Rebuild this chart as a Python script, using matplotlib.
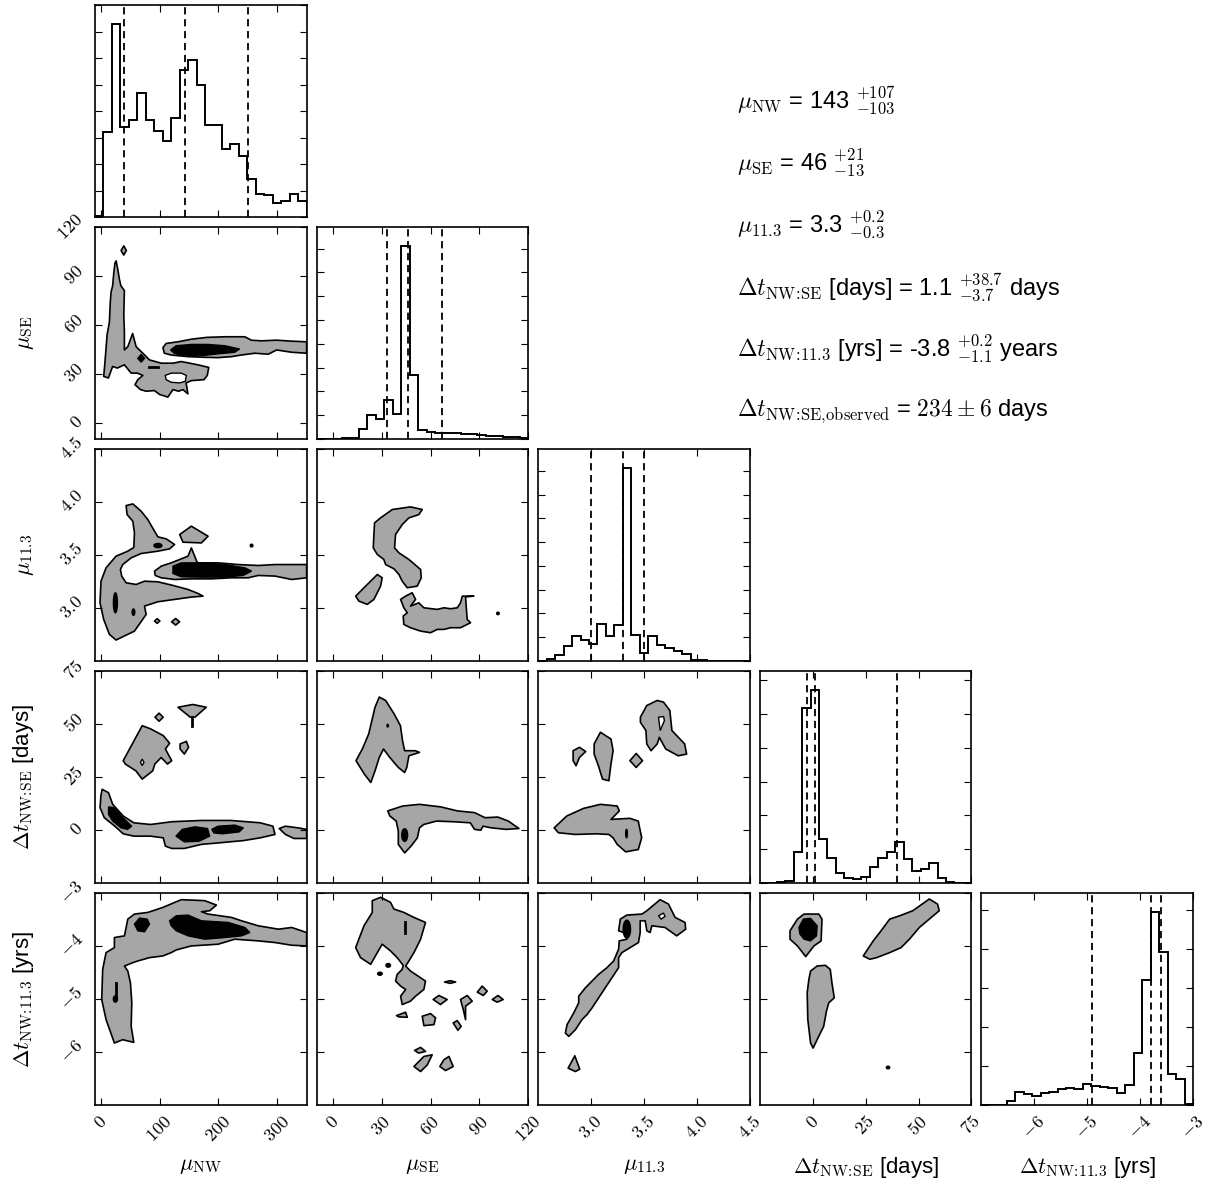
import numpy as np
import matplotlib
matplotlib.use("Agg")
import matplotlib.pyplot as plt
from matplotlib.patches import Ellipse
from matplotlib.ticker import MultipleLocator

plt.rcParams['mathtext.fontset'] = 'cm'
plt.rcParams['font.family'] = ['Liberation Sans', 'DejaVu Sans']

# ---------------- parameters / axes ----------------
labels = [r'$\mu_{\rm NW}$', r'$\mu_{\rm SE}$', r'$\mu_{11.3}$',
          r'$\Delta t_{\rm NW\!:\!SE}$ [days]', r'$\Delta t_{\rm NW\!:\!11.3}$ [yrs]']
ranges = [(-10, 350), (-10, 120), (2.5, 4.5), (-25, 75), (-7, -3)]
tick_vals = [[0, 100, 200, 300], [0, 30, 60, 90, 120], [3.0, 3.5, 4.0, 4.5],
             [0, 25, 50, 75], [-6, -5, -4, -3]]
tick_txt = [['0', '100', '200', '300'], ['0', '30', '60', '90', '120'],
            ['3.0', '3.5', '4.0', '4.5'], ['0', '25', '50', '75'],
            ['-6', '-5', '-4', '-3']]

# ---------------- 1D histograms (25 bins each) ----------------
hist_nw = [1, 161, 364, 170, 184, 235, 184, 163, 143, 187, 277, 296, 250, 173, 173,
           128, 138, 115, 72, 44, 41, 27, 30, 43, 30]
hist_se = [0, 0, 1, 3, 6, 42, 101, 84, 162, 104, 810, 268, 38, 28, 25, 24, 24, 23,
           20, 17, 14, 13, 10, 8, 6]
hist_113 = [1, 8, 24, 65, 107, 90, 72, 156, 104, 152, 811, 111, 34, 104, 66, 55, 41,
            31, 6, 3, 1, 0, 0, 0, 0]
hist_dtse = [0, 2, 4, 12, 182, 1038, 1141, 261, 150, 57, 28, 22, 38, 97, 150, 186,
             240, 141, 73, 83, 121, 28, 4, 0, 0]
hist_dt113 = [0, 0, 0, 21, 67, 55, 46, 60, 67, 80, 89, 80, 106, 97, 92, 85, 63, 103,
              265, 641, 986, 781, 157, 135, 3]
hists = [hist_nw, hist_se, hist_113, hist_dtse, hist_dt113]
hist_tick_step = [50, 100, 100, 200, 200]

q_nw = [40, 143, 250]
q_se = [33, 46, 67]
q_113 = [3.0, 3.3, 3.5]
q_dtse = [-2.6, 1.1, 39.8]
q_dt113 = [-4.9, -3.8, -3.6]
quantiles = [q_nw, q_se, q_113, q_dtse, q_dt113]

# ---------------- 2D credible regions (data coordinates) ----------------
# panel (mu_SE vs mu_NW)
p10_gray = [
    [(4.8, 28.4), (7, 37.5), (8.8, 45.6), (10.5, 53.7), (14.5, 61.8), (16, 73.9), (17.3, 80),
     (20, 84), (22, 92), (24, 98), (26, 99.2), (28.7, 94.1), (31.5, 88), (34, 84), (40, 81),
     (39.5, 73.9), (39, 65.8), (40, 55.7), (40, 44.6), (45.8, 46.6), (54, 54.7), (60, 46.6),
     (62.8, 45.6), (71.4, 42.6), (82.7, 38.5), (102.6, 36.5), (122.6, 36.5), (136.8, 37.5),
     (151, 36.5), (165, 35.5), (183.5, 33.9), (181, 29), (175.5, 26.4), (154, 25.8),
     (145, 24.4), (148, 17.7), (139.6, 20.3), (132, 19.3), (122.6, 20.3), (114, 15.7),
     (100, 17.3), (91, 19.7), (77, 19.3), (67.4, 20.3), (58, 23.3), (62.8, 26.4),
     (71.4, 29), (62, 30.4), (51.5, 30.4), (40, 35.5), (28, 33.5), (20, 34.5), (12.8, 27.4)],
    [(105.5, 46), (111, 48.6), (131, 49.6), (154, 51.2), (179.4, 52.3), (210.6, 52.7),
     (244.8, 52.7), (256, 50.6), (273, 50.2), (299, 50.6), (324.4, 50), (350, 49.6),
     (350, 42.6), (324.4, 43.2), (299, 44.6), (284.6, 42), (261.8, 42.6), (239, 41.5),
     (222, 40.5), (199, 39.9), (176.5, 40.1), (148, 40.5), (119.7, 41.5), (108, 42.6)],
    [(34.4, 105.6), (38.9, 108.4), (43.4, 105.6), (38.9, 102.8)],
]
p10_white = [
    [(109.5, 29), (119.7, 30.4), (136.8, 30.4), (145.3, 29), (143.6, 25.4), (134, 24.4),
     (119.7, 24.8), (111, 26.4)],
]
p10_black = [
    [(118.5, 44.6), (128, 47.2), (154, 48), (182, 48), (210.6, 47.2), (236, 45.2),
     (227.7, 43.2), (199, 42.2), (171, 41.1), (142.4, 41.1), (125.4, 42.4)],
    [(62.8, 39.5), (68.5, 41.9), (74.2, 39.5), (68.5, 37.1)],
]
p10_lines = [[(81.6, 34), (97, 34)]]
p10_dots = []

# panel (mu_11.3 vs mu_NW)
p20_gray = [
    [(42.9, 3.966), (54.3, 3.982), (68.5, 3.913), (79.9, 3.834), (91.3, 3.724), (97, 3.671),
     (111.2, 3.652), (125.4, 3.599), (116.9, 3.558), (97, 3.536), (68.5, 3.514),
     (51.5, 3.473), (37.2, 3.410), (33.2, 3.363), (35.5, 3.301), (42.9, 3.238), (60, 3.222),
     (74.2, 3.253), (97, 3.247), (122.6, 3.213), (148.2, 3.175), (165.3, 3.137),
     (173.8, 3.112), (153.9, 3.103), (125.4, 3.081), (97, 3.059), (74.2, 3.018),
     (77, 2.939), (57.1, 2.782), (25.8, 2.698), (14.5, 2.751), (4.8, 2.892), (-1.5, 3.049),
     (0.2, 3.253), (8.8, 3.379), (25.8, 3.489), (45.8, 3.536), (56, 3.571), (57.1, 3.709),
     (54.3, 3.819), (44.6, 3.881)],
    [(91.3, 3.348), (102.7, 3.395), (119.7, 3.426), (148.2, 3.489), (153.9, 3.567),
     (164.1, 3.426), (199.4, 3.426), (233.5, 3.410), (267.7, 3.401), (296.1, 3.410),
     (324.6, 3.410), (350, 3.410), (350, 3.285), (324.6, 3.269), (296.1, 3.301),
     (267.7, 3.307), (250.6, 3.285), (222.2, 3.285), (188, 3.275), (153.9, 3.275),
     (125.4, 3.269), (102.7, 3.285), (92.4, 3.307)],
    [(134, 3.693), (153.9, 3.772), (182.3, 3.677), (171, 3.614), (139.6, 3.621)],
    [(91.2, 2.877), (95.8, 2.899), (100.4, 2.877), (95.8, 2.855)],
    [(120.3, 2.870), (127.1, 2.901), (133.9, 2.870), (127.1, 2.839)],
]
p20_white = []
p20_black = [
    [(122.6, 3.395), (136.8, 3.426), (171, 3.426), (210.8, 3.410), (244.9, 3.379),
     (256.3, 3.348), (242, 3.307), (210.8, 3.291), (171, 3.291), (136.8, 3.294),
     (122.6, 3.326)],
]
p20_lines = []
p20_dots = [(97, 3.589, 6.8, 0.02), (24.7, 3.049, 3.4, 0.094), (55.4, 2.961, 2.3, 0.03),
            (256.3, 3.589, 2.3, 0.013)]

# panel (mu_11.3 vs mu_SE)
p21_gray = [
    [(36.5, 3.929), (47.7, 3.954), (54.9, 3.929), (52.8, 3.881), (46.7, 3.850),
     (42.6, 3.787), (38.5, 3.693), (37.9, 3.567), (40.6, 3.520), (46.7, 3.458),
     (53.9, 3.363), (54.3, 3.285), (51.8, 3.206), (45.7, 3.191), (42.6, 3.253),
     (40.6, 3.316), (37.5, 3.370), (32.4, 3.410), (31.3, 3.458), (27.3, 3.505),
     (24.8, 3.567), (25.2, 3.693), (25.6, 3.803), (29.3, 3.850)],
    [(14, 3.112), (20.1, 3.206), (27.3, 3.316), (30.3, 3.285), (29.3, 3.206), (25.2, 3.081),
     (21.1, 3.034), (16, 3.065)],
    [(41.6, 3.081), (44.7, 3.112), (48.7, 3.144), (50.8, 3.081), (47.7, 3.018),
     (52.8, 3.049), (55.9, 3.002), (64.1, 2.987), (68.2, 3.002), (72.3, 2.993),
     (76.4, 3.002), (78.4, 3.049), (79.5, 3.112), (86.6, 3.112), (81.5, 3.105),
     (82.5, 2.892), (84.6, 2.861), (78.4, 2.814), (72.3, 2.814), (68.2, 2.798),
     (64.1, 2.798), (60, 2.767), (53.9, 2.782), (47.7, 2.814), (43.6, 2.845),
     (43.2, 2.924), (45.7, 2.955), (43.6, 3.002)],
]
p21_white = []
p21_black = []
p21_lines = []
p21_dots = [(101.4, 2.949, 0.8, 0.012)]

# panel (dt_NW:SE vs mu_NW)
p30_gray = [
    [(2.2, 19.2), (13, 17.6), (20.1, 12.1), (38, 6.6), (56, 3.4), (84.6, 2.6), (120.5, 3.9),
     (170.7, 4.5), (220.9, 4.5), (271, 3.4), (292.6, 1.8), (296.2, -2.1), (271, -3.7),
     (242.4, -5), (199.4, -6.1), (170.7, -6.8), (142, -8.7), (120.5, -8.7), (109.7, -7.6),
     (106.2, -3.7), (84.6, -2.9), (56, -2.9), (38, -1.8), (23.7, 1.8), (5.8, 5.8),
     (-1.4, 10.5), (0, 16.1)],
    [(303.3, 0.7), (314, 1.8), (335.6, 1), (350, 0.3), (350, -4), (328.4, -4), (314, -2.1)],
    [(38, 32.7), (70.3, 49.2), (84.6, 47.7), (106.2, 44.5), (117, 40.9), (109.7, 38.2),
     (120.5, 32.7), (113.3, 31.1), (102.6, 34.2), (91.8, 31.1), (88.2, 27.9), (70.3, 24),
     (59.5, 27.9), (41.6, 31.1)],
    [(92, 53.2), (99, 55.1), (106, 53.2), (99, 51.3)],
    [(134.8, 40.6), (145.5, 41.8), (149.2, 39), (142, 35.8), (134.8, 38.2)],
    [(131.2, 57.9), (156.3, 59.2), (179.3, 57.9), (160, 53.2), (152, 53.2)],
]
p30_white = [[(67.3, 31.9), (70.3, 33.4), (73.3, 31.9), (70.3, 30.4)]]
p30_black = [
    [(13, 10.9), (23.7, 10.5), (34.5, 6.6), (52.4, 1.8), (45.2, 0.3), (34.5, 1),
     (20.1, 4.2), (13, 7.4)],
    [(127.7, -2.9), (138.4, 0.3), (160, 1.5), (181.4, 0.7), (185, -2.9), (167, -5.3),
     (142, -5.6)],
    [(188.6, 0.3), (199.4, 1.8), (228, 2.3), (242.4, 1), (235.2, -0.9), (206.5, -1.8),
     (192.2, -1.4)],
]
p30_lines = [[(155, 53.2), (155, 49.2)]]
p30_dots = []

# panel (dt_NW:SE vs mu_SE)
p31_gray = [
    [(14.2, 32.7), (18.1, 38.2), (22, 45.3), (25.9, 57.9), (28.5, 62.7), (32.4, 61.1),
     (37.6, 54.8), (41.5, 49.2), (42.8, 42.1), (44.1, 37.4), (50.6, 37.4), (53.2, 36.6),
     (46.7, 35), (45.4, 29.5), (44.1, 27.1), (40.2, 29.5), (35, 34.2), (31.1, 38.2),
     (28.5, 34.2), (25.9, 27.9), (23.3, 22.4), (19.4, 26.3)],
    [(33.7, 9), (42.8, 11.3), (53.2, 12.1), (66.2, 10.9), (76.6, 9), (87, 8.2), (93.5, 5.8),
     (101.3, 6.1), (107.8, 4.2), (114.3, 0.7), (106.5, 0.3), (97.4, 1), (92.2, 1.8),
     (90.9, -0.1), (87, 0.3), (84.4, 3.4), (74, 3.9), (63.6, 4.2), (55.8, 2.6), (53.2, 1),
     (51.9, -3.7), (48, -7.6), (44.1, -10.8), (40.2, -6.8), (40.2, -0.5), (38.9, 4.2),
     (35, 6.6)],
]
p31_white = []
p31_black = []
p31_lines = []
p31_dots = [(33.7, 49.2, 0.5, 0.6), (44.1, -2.4, 1.8, 3.0)]

# panel (dt_NW:SE vs mu_11.3)
p32_gray = [
    [(2.651, 1), (2.770, 6.6), (2.929, 10.2), (3.088, 12.1), (3.247, 11.3), (3.267, 9),
     (3.188, 5), (3.367, 5.5), (3.446, 4.2), (3.478, -3.7), (3.446, -9.2), (3.327, -10.3),
     (3.247, -6.8), (3.208, -3.7), (3.168, -2.1), (3.049, -1.8), (2.850, -2.1),
     (2.691, -1.3)],
    [(2.830, 37.4), (2.890, 39), (2.949, 37), (2.890, 34.2), (2.858, 30.3), (2.830, 32.7)],
    [(3.029, 40.6), (3.088, 46.1), (3.188, 42.9), (3.208, 37.4), (3.188, 31.1),
     (3.168, 23.2), (3.108, 24), (3.069, 30.3), (3.029, 35.8)],
    [(3.367, 32.7), (3.426, 36.1), (3.486, 32.7), (3.426, 29.5)],
    [(3.466, 53.2), (3.526, 58.7), (3.625, 61.1), (3.685, 60.3), (3.744, 56.4),
     (3.764, 46.9), (3.884, 40.6), (3.903, 35.8), (3.824, 35), (3.705, 38.2),
     (3.645, 43.7), (3.625, 40.6), (3.566, 37.4), (3.526, 40.6), (3.518, 46.9),
     (3.466, 50.8)],
]
p32_white = [[(3.637, 53.2), (3.685, 53.5), (3.693, 51.6), (3.653, 46.9)]]
p32_black = []
p32_lines = []
p32_dots = [(3.335, -1.7, 0.008, 2.0)]

# panel (dt_NW:11.3 vs mu_NW)
p40_gray = [
    [(23, -3.841), (40.1, -3.809), (45.8, -3.493), (57.1, -3.398), (79.9, -3.367),
     (105.5, -3.272), (136.8, -3.126), (176.6, -3.145), (196.5, -3.228), (185.2, -3.335),
     (171, -3.354), (182.3, -3.398), (222.2, -3.461), (239.2, -3.525), (267.7, -3.619),
     (301.8, -3.683), (324.6, -3.651), (350, -3.746), (350, -3.999), (324.6, -3.986),
     (296.1, -3.935), (267.7, -3.904), (227.8, -3.872), (199.4, -3.967), (153.9, -3.999),
     (128.3, -4.074), (119.7, -4.125), (105.5, -4.188), (82.7, -4.220), (62.8, -4.283),
     (54.3, -4.315), (40.1, -4.378), (45.8, -4.473), (50.3, -4.694), (52.6, -5.073),
     (51.5, -5.515), (56, -5.819), (37.2, -5.768), (23, -5.831), (8.8, -5.389),
     (1.4, -5.010), (3.1, -4.441), (8.8, -4.125), (23, -4.030)],
]
p40_white = []
p40_black = [
    [(57.1, -3.588), (65.7, -3.474), (78.8, -3.493), (82.7, -3.588), (74.2, -3.733),
     (62.8, -3.714)],
    [(116.9, -3.525), (128.3, -3.430), (148.2, -3.417), (171, -3.525), (216.5, -3.556),
     (244.9, -3.651), (253.4, -3.746), (239.2, -3.809), (210.8, -3.841), (176.6, -3.872),
     (148.2, -3.809), (128.3, -3.714), (119.7, -3.619)],
]
p40_lines = [[(25.8, -4.694), (25.8, -5.0)]]
p40_dots = [(24.7, -5.0, 3.5, 0.06)]

# panel (dt_NW:11.3 vs mu_SE)
p41_gray = [
    [(14, -4.030), (19.1, -3.619), (24.2, -3.367), (24.2, -3.145), (29.3, -3.082),
     (35.4, -3.177), (37.5, -3.303), (43.6, -3.367), (49.8, -3.461), (56.9, -3.556),
     (53.9, -3.872), (49.8, -4.125), (46.7, -4.283), (44.7, -4.378), (47.7, -4.473),
     (56.9, -4.662), (55.9, -4.820), (50.8, -4.947), (47.7, -5.041), (42.6, -5.105),
     (41.6, -4.947), (44.7, -4.820), (41.6, -4.757), (38.5, -4.662), (39.5, -4.536),
     (42.6, -4.441), (43.2, -4.365), (39.5, -4.220), (35.4, -4.093), (30.3, -3.967),
     (27.3, -4.125), (23.2, -4.346), (17, -4.220)],
    [(61.6, -5.010), (65.1, -4.934), (70.2, -5.010), (66.1, -5.105)],
    [(88.7, -4.871), (91.7, -4.757), (94.8, -4.852), (92.4, -4.934)],
    [(97.9, -5.010), (101.4, -4.934), (104.6, -5.010), (100.9, -5.060)],
    [(78.4, -5.010), (82.5, -4.934), (85.6, -5.041), (81.5, -5.136), (81.5, -5.389),
     (80.1, -5.199)],
    [(39.1, -5.313), (44.7, -5.250), (45.7, -5.345), (40.6, -5.338)],
    [(54.9, -5.326), (60, -5.275), (63.1, -5.357), (62.1, -5.484), (55.9, -5.503)],
    [(73.9, -5.452), (76.4, -5.408), (78.8, -5.515), (76.8, -5.591)],
    [(50.2, -5.970), (53.9, -5.913), (56.9, -5.989), (52.8, -6.021)],
    [(49.8, -6.274), (55.9, -6.084), (61, -6.053), (58, -6.243), (53.9, -6.369)],
    [(65.7, -6.274), (68.2, -6.147), (71.3, -6.084), (73.9, -6.274), (69.2, -6.350)],
    [(68.6, -4.680), (72, -4.655), (75.4, -4.680), (72, -4.705)],
]
p41_white = []
p41_black = []
p41_lines = [[(44.0, -3.556), (44.0, -3.746)]]
p41_dots = [(34, -4.365, 1.4, 0.035), (28.9, -4.523, 1.4, 0.03)]

# panel (dt_NW:11.3 vs mu_11.3)
p42_gray = [
    [(2.757, -5.642), (2.773, -5.484), (2.836, -5.263), (2.883, -5.073), (2.883, -4.947),
     (2.946, -4.789), (3.071, -4.536), (3.150, -4.409), (3.213, -4.283), (3.260, -4.062),
     (3.266, -3.904), (3.338, -3.872), (3.354, -3.777), (3.260, -3.714), (3.276, -3.493),
     (3.338, -3.417), (3.480, -3.398), (3.527, -3.335), (3.652, -3.126), (3.731, -3.209),
     (3.794, -3.461), (3.888, -3.556), (3.894, -3.683), (3.809, -3.809), (3.699, -3.651),
     (3.574, -3.619), (3.558, -3.746), (3.527, -3.714), (3.511, -3.525), (3.464, -3.525),
     (3.464, -3.746), (3.448, -3.935), (3.370, -4.030), (3.291, -4.125), (3.260, -4.220),
     (3.260, -4.409), (3.197, -4.599), (3.103, -4.883), (3.009, -5.168), (2.962, -5.294),
     (2.914, -5.389), (2.852, -5.579), (2.789, -5.705)],
    [(2.783, -6.305), (2.846, -6.072), (2.893, -6.324), (2.852, -6.369)],
]
p42_white = [[(3.637, -3.430), (3.684, -3.379), (3.699, -3.442), (3.662, -3.493)]]
p42_black = []
p42_lines = []
p42_dots = [(3.338, -3.683, 0.035, 0.17)]

# panel (dt_NW:11.3 vs dt_NW:SE)
p43_gray = [
    [(-10.7, -3.714), (-7.2, -3.493), (-4.1, -3.398), (2.9, -3.398), (4.4, -3.493),
     (4, -3.904), (0.6, -3.999), (-3.3, -4.201), (-7.2, -3.999), (-10.7, -3.872)],
    [(-1, -4.473), (2.1, -4.378), (6, -4.365), (8.3, -4.441), (9.1, -4.694), (10.2, -4.978),
     (7.6, -5.073), (6.5, -5.231), (5.2, -5.515), (2.1, -5.768), (0.2, -5.926),
     (-1, -5.831), (-2.3, -5.389), (-2.6, -4.883), (-1.8, -4.631)],
    [(23.9, -4.188), (28.6, -3.904), (31.7, -3.746), (36.4, -3.493), (41.1, -3.430),
     (47.3, -3.335), (55.1, -3.114), (59, -3.209), (59.8, -3.335), (55.1, -3.493),
     (50.4, -3.651), (45.7, -3.872), (41.8, -4.030), (36.4, -4.125), (30.2, -4.220),
     (27, -4.251)],
]
p43_white = []
p43_black = [
    [(-6.5, -3.651), (-4.4, -3.493), (-1, -3.480), (2.1, -3.619), (1.8, -3.809),
     (-1, -3.904), (-4.1, -3.872), (-6, -3.777)],
]
p43_lines = []
p43_dots = [(35.6, -6.293, 0.8, 0.025)]

panels = {
    (1, 0): (p10_gray, p10_white, p10_black, p10_lines, p10_dots),
    (2, 0): (p20_gray, p20_white, p20_black, p20_lines, p20_dots),
    (2, 1): (p21_gray, p21_white, p21_black, p21_lines, p21_dots),
    (3, 0): (p30_gray, p30_white, p30_black, p30_lines, p30_dots),
    (3, 1): (p31_gray, p31_white, p31_black, p31_lines, p31_dots),
    (3, 2): (p32_gray, p32_white, p32_black, p32_lines, p32_dots),
    (4, 0): (p40_gray, p40_white, p40_black, p40_lines, p40_dots),
    (4, 1): (p41_gray, p41_white, p41_black, p41_lines, p41_dots),
    (4, 2): (p42_gray, p42_white, p42_black, p42_lines, p42_dots),
    (4, 3): (p43_gray, p43_white, p43_black, p43_lines, p43_dots),
}

summary = [
    r'$\mu_{\rm NW}$ = 143 ${}^{+107}_{-103}$',
    r'$\mu_{\rm SE}$ = 46 ${}^{+21}_{-13}$',
    r'$\mu_{11.3}$ = 3.3 ${}^{+0.2}_{-0.3}$',
    r'$\Delta t_{\rm NW\!:\!SE}$ [days] = 1.1 ${}^{+38.7}_{-3.7}$ days',
    r'$\Delta t_{\rm NW\!:\!11.3}$ [yrs] = -3.8 ${}^{+0.2}_{-1.1}$ years',
    r'$\Delta t_{\rm NW\!:\!SE,\!observed}$ = $234 \pm 6$ days',
]

# ---------------- drawing ----------------
GRAY = '#a6a6a6'
n = 5
fig, axes = plt.subplots(n, n, figsize=(12.09, 11.95), dpi=100)
fig.subplots_adjust(left=95 / 1209, right=1193 / 1209, top=1 - 5 / 1195,
                    bottom=1 - 1105 / 1195, wspace=0.047, hspace=0.047)

TICK_FS = 13
LABEL_FS = 16


def math_labels(txts):
    return ['$' + t + '$' for t in txts]


for i in range(n):
    for j in range(n):
        ax = axes[i, j]
        if j > i:
            ax.set_axis_off()
            continue
        ax.set_xlim(*ranges[j])
        ax.set_xticks(tick_vals[j])
        ax.tick_params(direction='in', length=5, width=0.8, top=True, right=True, pad=6)
        for s in ax.spines.values():
            s.set_linewidth(1.2)
        if i == j:
            counts = np.array(hists[i], dtype=float)
            edges = np.linspace(ranges[i][0], ranges[i][1], len(counts) + 1)
            ax.stairs(counts, edges, color='k', lw=1.4, baseline=0)
            for q in quantiles[i]:
                ax.axvline(q, color='k', ls=(0, (4, 2.6)), lw=1.3)
            ax.set_ylim(0, 1.1 * counts.max())
            ax.yaxis.set_major_locator(MultipleLocator(hist_tick_step[i]))
            ax.set_yticklabels([])
        else:
            ax.set_ylim(*ranges[i])
            ax.set_yticks(tick_vals[i])
            gray, white, black, lines, dots = panels[(i, j)]
            for poly in gray:
                xs, ys = zip(*poly)
                ax.fill(xs, ys, facecolor=GRAY, edgecolor='k', lw=1.2, joinstyle='round')
            for poly in white:
                xs, ys = zip(*poly)
                ax.fill(xs, ys, facecolor='white', edgecolor='k', lw=1.0)
            for poly in black:
                xs, ys = zip(*poly)
                ax.fill(xs, ys, facecolor='k', edgecolor='k', lw=1.0)
            for ln in lines:
                xs, ys = zip(*ln)
                ax.plot(xs, ys, color='k', lw=2)
            for (cx, cy, hx, hy) in dots:
                ax.add_patch(Ellipse((cx, cy), 2 * hx, 2 * hy, facecolor='k',
                                     edgecolor='k', lw=1))
            if j == 0:
                ax.set_yticklabels(math_labels(tick_txt[i]), rotation=45,
                                   fontsize=TICK_FS, ha='right', va='center')
                ax.set_ylabel(labels[i], fontsize=LABEL_FS)
                ax.yaxis.set_label_coords(-0.28, 0.5)
            else:
                ax.set_yticklabels([])
        if i == n - 1:
            ax.set_xticklabels(math_labels(tick_txt[j]), rotation=45, fontsize=TICK_FS,
                               ha='center', va='top')
            ax.set_xlabel(labels[j], fontsize=LABEL_FS)
            ax.xaxis.set_label_coords(0.5, -0.235)
        else:
            ax.set_xticklabels([])

for k, line in enumerate(summary):
    fig.text(737 / 1209, 1 - (100 + 62.2 * k) / 1195, line, fontsize=17,
             ha='left', va='center')

fig.savefig('out.png', dpi=100)
